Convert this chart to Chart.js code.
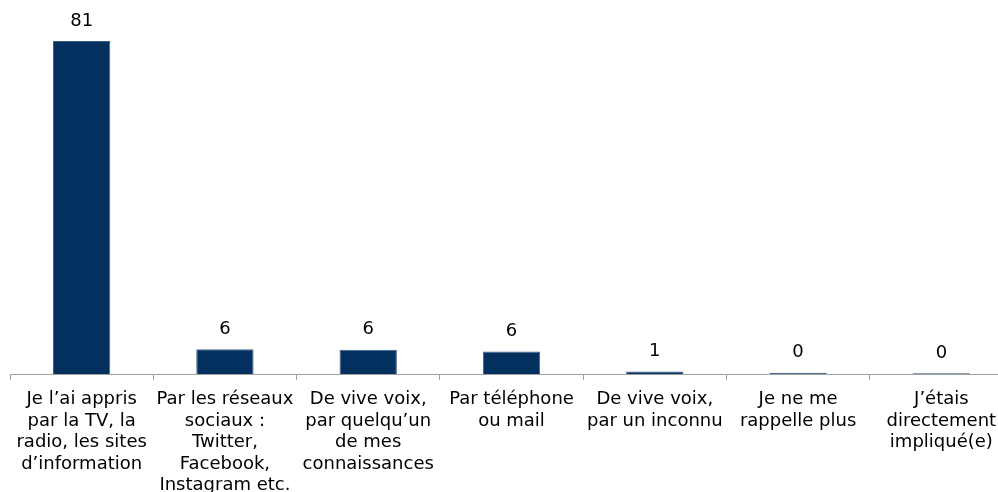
<!DOCTYPE html>
<html>
<head>
<meta charset="utf-8">
<script src="https://cdn.jsdelivr.net/npm/chart.js@4"></script>
<style>
  html, body { margin: 0; padding: 0; background: #fff; }
  #wrap { width: 998px; height: 492px; overflow: hidden; position: relative; }
  #box { width: 1016px; height: 505px; position: absolute; left: 0; top: 0; }
</style>
</head>
<body>
<div id="wrap"><div id="box"><canvas id="bars"></canvas></div></div>
<script>
const categories = [
  ['Je l’ai appris', 'par la TV, la', 'radio, les sites', 'd’information'],
  ['Par les réseaux', 'sociaux :', 'Twitter,', 'Facebook,', 'Instagram etc.'],
  ['De vive voix,', 'par quelqu’un', 'de mes', 'connaissances'],
  ['Par téléphone', 'ou mail'],
  ['De vive voix,', 'par un inconnu'],
  ['Je ne me', 'rappelle plus'],
  ['J’étais', 'directement', 'impliqué(e)']
];
const values = [81, 6, 5.9, 5.5, 0.6, 0.3, 0.2];

const FONT = '"DejaVu Sans", Verdana, sans-serif';

const valueLabels = {
  id: 'valueLabels',
  afterDatasetsDraw(chart) {
    const c = chart.ctx;
    const meta = chart.getDatasetMeta(0);
    c.save();
    c.font = '18px ' + FONT;
    c.fillStyle = '#000';
    c.textAlign = 'center';
    c.textBaseline = 'middle';
    meta.data.forEach((bar, i) => {
      c.fillText(Math.round(values[i]), bar.x, bar.y - 20);
    });
    c.restore();
  }
};

new Chart(document.getElementById('bars'), {
  type: 'bar',
  data: {
    labels: categories,
    datasets: [{
      data: values,
      backgroundColor: '#03305f',
      borderColor: '#3d5f86',
      borderWidth: 1,
      borderSkipped: 'bottom',
      barPercentage: 0.4,
      categoryPercentage: 1
    }]
  },
  options: {
    responsive: true,
    maintainAspectRatio: false,
    animation: false,
    layout: { padding: { left: 10, right: 3, top: 4, bottom: 0 } },
    plugins: {
      legend: { display: false },
      tooltip: { enabled: false }
    },
    scales: {
      y: {
        display: false,
        min: 0,
        max: 90
      },
      x: {
        border: { color: '#a0a0a0', width: 1 },
        grid: {
          offset: true,
          drawOnChartArea: false,
          color: '#a0a0a0',
          tickLength: 6
        },
        ticks: {
          color: '#000',
          font: { family: FONT, size: 18, lineHeight: 1.2 },
          padding: 8.5,
          maxRotation: 0,
          autoSkip: false
        }
      }
    }
  },
  plugins: [valueLabels]
});
</script>
</body>
</html>
